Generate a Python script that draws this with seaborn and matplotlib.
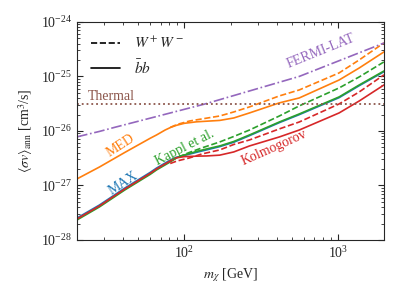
import numpy as np
import matplotlib
matplotlib.use("Agg")
import matplotlib.pyplot as plt
import seaborn as sns
from matplotlib.lines import Line2D

# ---------------------------------------------------------
# DATA
# ---------------------------------------------------------
mass = [20, 28, 41, 60, 66, 75, 82, 89, 100, 120, 140, 170, 210, 266, 416, 561, 1020, 1380, 2000]
mass_ww = [81, 90, 108, 130, 170, 210, 266, 416, 561, 1020, 1380, 2000]

med_bb = [1.32e-27, 2.18e-27, 4.04e-27, 7.35e-27, 8.45e-27, 1.04e-26, 1.17e-26, 1.27e-26,
          1.38e-26, 1.47e-26, 1.51e-26, 1.56e-26, 1.73e-26, 2.14e-26, 3.27e-26, 4.03e-26,
          8.6e-26, 1.43e-25, 2.82e-25]
kolmo_bb = [2.43e-28, 4.21e-28, 8.63e-28, 1.67e-27, 2.01e-27, 2.48e-27, 2.87e-27, 3.22e-27,
            3.38e-27, 3.45e-27, 3.48e-27, 3.60e-27, 4.12e-27, 5.31e-27, 7.76e-27, 1.04e-26,
            2.14e-26, 3.55e-26, 6.98e-26]
kappl_bb = [2.33e-28, 4.04e-28, 8.28e-28, 1.60e-27, 1.93e-27, 2.38e-27, 2.76e-27, 3.20e-27,
            3.63e-27, 4.21e-27, 4.68e-27, 5.31e-27, 6.41e-27, 8.45e-27, 1.46e-26, 2.05e-26,
            4.21e-26, 6.98e-26, 1.26e-25]
max_bb = [2.53e-28, 4.38e-28, 8.98e-28, 1.74e-27, 2.09e-27, 2.58e-27, 2.98e-27, 3.30e-27,
          3.55e-27, 4.05e-27, 4.5e-27, 5.15e-27, 6.2e-27, 8.2e-27, 1.42e-26, 1.99e-26,
          4.08e-26, 6.77e-26, 1.22e-25]

med_ww = [1.16e-26, 1.32e-26, 1.52e-26, 1.66e-26, 1.88e-26, 2.23e-26, 2.76e-26, 4.39e-26,
          5.65e-26, 1.16e-25, 2.01e-25, 4.12e-25]
kappl_ww = [2.82e-27, 3.27e-27, 4.04e-27, 4.88e-27, 6.28e-27, 7.92e-27, 1.04e-26, 1.88e-26,
            2.88e-26, 6.15e-26, 9.8e-26, 1.85e-25]
kolmo_ww = [2.53e-27, 2.82e-27, 3.20e-27, 3.78e-27, 4.48e-27, 5.65e-27, 6.84e-27, 1.09e-26,
            1.46e-26, 3.13e-26, 5.20e-26, 1.07e-25]

fermi_mass = [20, 28, 35, 135, 561, 2000]
fermi_lim = [7.8e-27, 9.8e-27, 1.16e-26, 3.1e-26, 1.0e-25, 4.1e-25]

thermal = 3.1e-26

# ---------------------------------------------------------
# STYLE
# ---------------------------------------------------------
sns.set_style("ticks")
plt.rcParams["font.family"] = ["Liberation Serif", "DejaVu Serif"]
plt.rcParams["mathtext.fontset"] = "stix"
plt.rcParams["font.size"] = 10
plt.rcParams["xtick.direction"] = "in"
plt.rcParams["ytick.direction"] = "in"
plt.rcParams["xtick.top"] = True
plt.rcParams["ytick.right"] = True

c_blue, c_orange, c_green, c_red, c_purple, c_brown = sns.color_palette("tab10")[:6]

fig = plt.figure(figsize=(4, 3), dpi=100)
ax = fig.add_axes([0.1925, 0.2, 0.7675, 0.727])
lw = 1.2

sns.lineplot(x=mass, y=max_bb, ax=ax, color=c_blue, lw=lw)
sns.lineplot(x=mass, y=kappl_bb, ax=ax, color=c_green, lw=lw)
sns.lineplot(x=mass_ww, y=kappl_ww, ax=ax, color=c_green, lw=lw, linestyle="--")
sns.lineplot(x=mass, y=kolmo_bb, ax=ax, color=c_red, lw=lw)
sns.lineplot(x=mass_ww, y=kolmo_ww, ax=ax, color=c_red, lw=lw, linestyle="--")
sns.lineplot(x=mass, y=med_bb, ax=ax, color=c_orange, lw=lw)
sns.lineplot(x=mass_ww, y=med_ww, ax=ax, color=c_orange, lw=lw, linestyle="--")
sns.lineplot(x=fermi_mass, y=fermi_lim, ax=ax, color=c_purple, lw=lw, linestyle="-.")
ax.axhline(thermal, color=c_brown, lw=1.3, linestyle=":")

ax.set_xscale("log")
ax.set_yscale("log")
ax.set_xlim(20, 2000)
ax.set_ylim(1e-28, 1e-24)
ax.set_yticks([1e-28, 1e-27, 1e-26, 1e-25, 1e-24])
ax.set_xticks([1e2, 1e3])
ax.set_xlabel(r"$m_\chi$ [GeV]")
ax.set_ylabel(r"$\langle \sigma v \rangle_{\rm ann}$ [cm$^3$/s]")
ax.tick_params(which="major", length=4)
ax.tick_params(which="minor", length=2)

# curve labels
ax.text(23.6, 3.25e-26, "Thermal", color=c_brown, ha="left", va="bottom")
ax.text(780, 2.94e-25, "FERMI-LAT", color=c_purple, rotation=22,
        ha="center", va="center", rotation_mode="anchor")
ax.text(38.6, 5.3e-27, "MED", color=c_orange, rotation=33,
        ha="center", va="center", rotation_mode="anchor")
ax.text(39.8, 1.11e-27, "MAX", color=c_blue, rotation=33,
        ha="center", va="center", rotation_mode="anchor")
ax.text(100, 4.87e-27, "Kappl et al.", color=c_green, rotation=27,
        ha="center", va="center", rotation_mode="anchor")
ax.text(386, 4.9e-27, "Kolmogorov", color=c_red, rotation=24,
        ha="center", va="center", rotation_mode="anchor")

handles = [Line2D([], [], color="black", lw=lw, linestyle="--"),
           Line2D([], [], color="black", lw=lw, linestyle="-")]
ax.legend(handles, [r"$W^+W^-$", r"$\bar{b}b$"], loc="upper left",
          frameon=False, handlelength=1.9, handletextpad=0.9,
          labelspacing=0.45, borderaxespad=0.5, fontsize=11)

fig.savefig("out.png", dpi=100)
